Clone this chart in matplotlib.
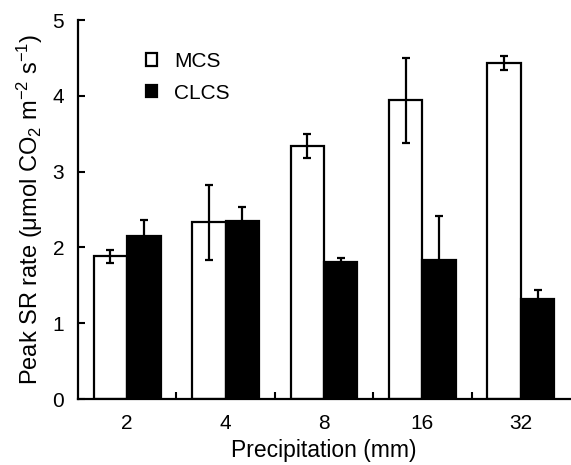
import matplotlib
matplotlib.use("Agg")
import matplotlib.pyplot as plt
import numpy as np

plt.rcParams['font.family'] = ['Liberation Sans', 'DejaVu Sans']
plt.rcParams['mathtext.fontset'] = 'custom'
plt.rcParams['mathtext.rm'] = 'Liberation Sans'
plt.rcParams['mathtext.it'] = 'Liberation Sans:italic'

# data
precip = ['2', '4', '8', '16', '32']
mcs = [1.88, 2.33, 3.34, 3.94, 4.43]
mcs_err = [0.09, 0.49, 0.16, 0.56, 0.09]
clcs = [2.15, 2.35, 1.81, 1.83, 1.32]
clcs_err = [0.21, 0.18, 0.05, 0.59, 0.12]

x = np.arange(len(precip))
w = 0.34

fig = plt.figure(figsize=(5.71, 4.65), dpi=100)
ax = fig.add_axes([78/571, 66/465, 492/571, 379/465])

ekw = dict(elinewidth=1.6, capthick=1.6, ecolor='black')
ax.bar(x - w/2, mcs, w, yerr=mcs_err, capsize=2.8, color='white',
       edgecolor='black', linewidth=1.6, error_kw=ekw, label='MCS')
ax.bar(x + w/2, clcs, w, yerr=clcs_err, capsize=2.8, color='black',
       edgecolor='black', linewidth=1.6, error_kw=ekw, label='CLCS')

ax.set_xlim(-0.5, len(precip) - 0.5)
ax.set_ylim(0, 5)
ax.set_yticks(range(6))
ax.set_xticks(x)
ax.set_xticklabels(precip)
ax.set_xticks(np.arange(0.5, len(precip) - 1, 1), minor=True)
ax.tick_params(axis='x', which='major', length=0, labelsize=15, pad=11)
ax.tick_params(axis='x', which='minor', direction='in', length=5, width=1.5)
ax.tick_params(axis='y', direction='in', length=5, width=1.5, labelsize=15, pad=10)

for s in ['top', 'right']:
    ax.spines[s].set_visible(False)
for s in ['left', 'bottom']:
    ax.spines[s].set_linewidth(1.6)

ax.set_xlabel('Precipitation (mm)', fontsize=16.5, labelpad=4)
ax.set_ylabel('Peak SR rate (μmol CO$_2$ m$^{-2}$ s$^{-1}$)', fontsize=17, labelpad=5)

ax.legend(loc='upper left', bbox_to_anchor=(0.1, 0.965), frameon=False,
          fontsize=15, handlelength=0.55, handleheight=0.55, handletextpad=0.8,
          labelspacing=0.6)

fig.savefig('out.png', dpi=100)
